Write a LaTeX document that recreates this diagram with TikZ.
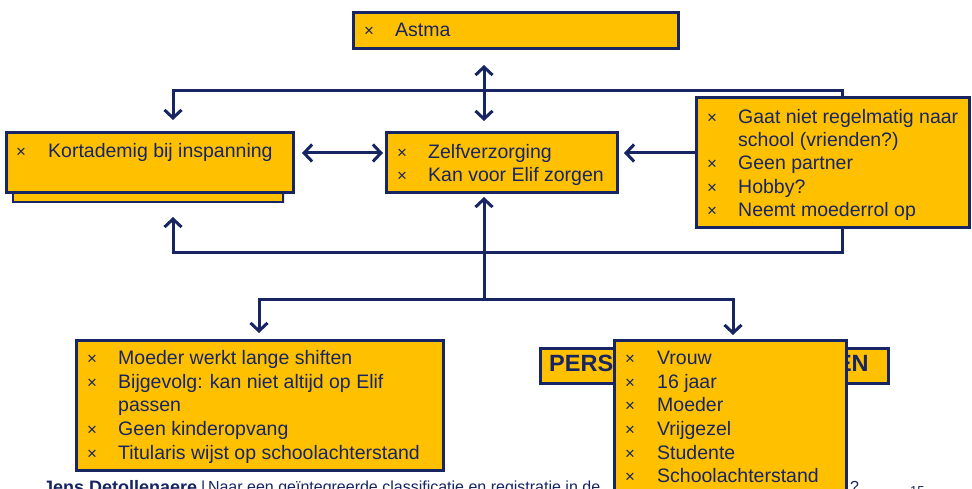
\documentclass[tikz,border=0pt]{standalone}
\usepackage{fontspec}
\setmainfont{Liberation Sans}
\usetikzlibrary{arrows.meta,shadows}
\definecolor{navy}{HTML}{172563}
\definecolor{gold}{HTML}{FFC000}
\begin{document}
\begin{tikzpicture}[x=1pt,y=-1pt,
  >={Straight Barb[length=8pt,width=17pt]},
  box/.style={draw=navy, fill=gold, line width=3pt, rectangle, inner sep=0pt, outer sep=0pt, anchor=north west,
    drop shadow={opacity=0.25, shadow xshift=1.5pt, shadow yshift=-1.5pt}},
  arr/.style={draw=navy, line width=3pt},
  li/.style={anchor=base west, inner sep=0pt, text=navy, font=\fontsize{19.5}{23}\selectfont},
  xx/.style={anchor=base west, inner sep=0pt, text=navy, font=\fontsize{17}{19}\selectfont},
  foot/.style={anchor=base west, inner sep=0pt, text=navy}
]
\useasboundingbox (0,0) rectangle (972,489);
\fill[white] (0,0) rectangle (972,489);
\clip (0,0) rectangle (972,489);

% helper coordinates
\coordinate (xa) at (484,0);
\coordinate (yt) at (0,91);
\coordinate (yb) at (0,253);
\coordinate (ym) at (0,153);
\coordinate (xk) at (173,0);
\coordinate (xr) at (842,0);
\coordinate (jn) at (484,299);
\coordinate (xbl) at (259,0);
\coordinate (xbr) at (733,0);

% boxes (top part)
\node[box, minimum width=325pt, minimum height=36pt] (A) at (353,13) {};
\node[box, line width=1.5pt, drop shadow={opacity=0}, minimum width=270pt, minimum height=52pt] (Ks) at (13,150) {};
\node[box, minimum width=287pt, minimum height=60pt] (K) at (6,133) {};
\node[box, minimum width=231pt, minimum height=60pt] (Z) at (386,133) {};
\node[box, minimum width=273pt, minimum height=130pt] (R) at (696,98) {};

% connectors
\draw[arr,<->,shorten <=16pt, shorten >=12pt] (A.south -| xa) -- (Z.north -| xa);
\draw[arr,->,shorten >=13pt] (R.north -| xr) -- (xr |- yt) -| (K.north -| xk);
\draw[arr,->,shorten >=24pt] (R.south -| xr) -- (xr |- yb) -| (K.south -| xk);
\draw[arr,<->,shorten <=9pt, shorten >=3pt] (K.east |- ym) -- (Z.west |- ym);
\draw[arr,->,shorten >=7pt] (R.west |- ym) -- (Z.east |- ym);
\draw[arr,->,shorten >=4pt] (jn) -- (Z.south -| jn);

% texts top
\node[xx] (a0) at (364,37) {×};
\node[li] (a1) at (395,37) {Astma};
\node[xx] (k0) at (16,158) {×};
\node[li] (k1) at (48,158) {Kortademig bij inspanning};
\node[xx] (z0) at (397,158.3) {×};
\node[li] (z1) at (428,158.3) {Zelfverzorging};
\node[xx] (z2) at (397,181.7) {×};
\node[li] (z3) at (428,181.7) {Kan voor Elif zorgen};
\node[xx] (r0) at (707,123.3) {×};
\node[li] (r1) at (738,123.3) {Gaat niet regelmatig naar};
\node[li] (r2) at (738,146.7) {school (vrienden?)};
\node[xx] (r3) at (707,170) {×};
\node[li] (r4) at (738,170) {Geen partner};
\node[xx] (r5) at (707,193.3) {×};
\node[li] (r6) at (738,193.3) {Hobby?};
\node[xx] (r7) at (707,216.7) {×};
\node[li] (r8) at (738,216.7) {Neemt moederrol op};

% footer
\node[foot, font=\fontsize{18}{20}\selectfont\bfseries] (f1) at (43,493) {Jens Detollenaere};
\node[foot, font=\fontsize{16}{18}\selectfont] (f2) at (201,492) {|\,Naar een geïntegreerde classificatie en registratie in de};
\node[foot, font=\fontsize{16}{18}\selectfont] (f3) at (850,492) {?};
\node[foot, font=\fontsize{13}{15}\selectfont] (f4) at (910,495) {15};

% bottom boxes
\node[box, minimum width=367pt, minimum height=130pt] (BL) at (76,340) {};
\node[box, minimum width=348pt, minimum height=35pt] (P) at (540,348) {};
\node[anchor=base west, inner sep=0pt, text=navy, font=\fontsize{23.5}{26}\selectfont\bfseries] (p1) at (549,371.7) {PERSOONLIJKE FACTOREN};
\node[box, minimum width=232pt, minimum height=170pt] (BR) at (614,340) {};

\draw[arr,->,shorten >=7pt] (jn) -| (BL.north -| xbl);
\draw[arr,->,shorten >=5pt] (jn) -| (BR.north -| xbr);

% texts bottom left
\node[xx] (b0) at (87,364) {×};
\node[li] (b1) at (118,364) {Moeder werkt lange shiften};
\node[xx] (b2) at (87,388.3) {×};
\node[li] (b3) at (118,388.3) {Bijgevolg: kan niet altijd op Elif};
\node[li] (b4) at (118,411.7) {passen};
\node[xx] (b5) at (87,435) {×};
\node[li] (b6) at (118,435) {Geen kinderopvang};
\node[xx] (b7) at (87,459) {×};
\node[li] (b8) at (118,459) {Titularis wijst op schoolachterstand};

% texts bottom right
\node[xx] (c0) at (625,364) {×};
\node[li] (c1) at (657,364) {Vrouw};
\node[xx] (c2) at (625,388.3) {×};
\node[li] (c3) at (657,388.3) {16 jaar};
\node[xx] (c4) at (625,411.7) {×};
\node[li] (c5) at (657,411.7) {Moeder};
\node[xx] (c6) at (625,435) {×};
\node[li] (c7) at (657,435) {Vrijgezel};
\node[xx] (c8) at (625,459) {×};
\node[li] (c9) at (657,459) {Studente};
\node[xx] (c10) at (625,482) {×};
\node[li] (c11) at (657,482) {Schoolachterstand};
\end{tikzpicture}
\end{document}
